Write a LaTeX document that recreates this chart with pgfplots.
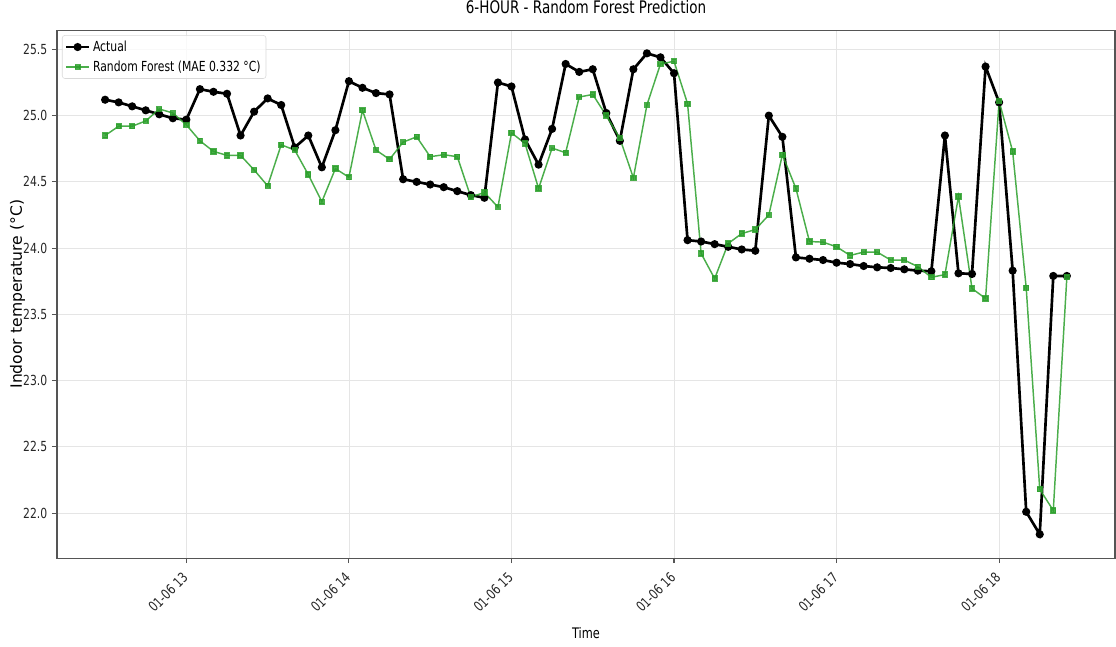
\documentclass[border=0pt]{standalone}
\usepackage{pgfplots}
\pgfplotsset{compat=1.18}
\usepackage{pgfplotstable}
\usepackage{fontspec}
\setmainfont{DejaVu Sans}[FakeStretch=0.78]
\newfontfamily\ylabfont{DejaVu Sans}
\usetikzlibrary{calc}
\definecolor{rfgreen}{HTML}{2CA02C}
\definecolor{spine}{HTML}{555555}

\pgfplotstableread{
t actual rf
12.5000 25.12 24.85
12.5833 25.10 24.92
12.6667 25.07 24.92
12.7500 25.04 24.96
12.8333 25.01 25.05
12.9167 24.98 25.02
13.0000 24.97 24.93
13.0833 25.20 24.81
13.1667 25.18 24.73
13.2500 25.165 24.70
13.3333 24.85 24.70
13.4167 25.03 24.59
13.5000 25.13 24.47
13.5833 25.08 24.78
13.6667 24.76 24.74
13.7500 24.85 24.555
13.8333 24.61 24.35
13.9167 24.89 24.60
14.0000 25.26 24.535
14.0833 25.21 25.04
14.1667 25.17 24.74
14.2500 25.16 24.67
14.3333 24.52 24.80
14.4167 24.50 24.84
14.5000 24.48 24.69
14.5833 24.46 24.705
14.6667 24.43 24.69
14.7500 24.40 24.385
14.8333 24.38 24.42
14.9167 25.25 24.31
15.0000 25.22 24.87
15.0833 24.82 24.79
15.1667 24.63 24.45
15.2500 24.90 24.755
15.3333 25.39 24.72
15.4167 25.33 25.14
15.5000 25.35 25.16
15.5833 25.02 25.00
15.6667 24.81 24.83
15.7500 25.35 24.53
15.8333 25.47 25.08
15.9167 25.44 25.39
16.0000 25.32 25.41
16.0833 24.06 25.09
16.1667 24.05 23.96
16.2500 24.03 23.77
16.3333 24.01 24.035
16.4167 23.99 24.11
16.5000 23.98 24.14
16.5833 25.00 24.25
16.6667 24.84 24.705
16.7500 23.93 24.45
16.8333 23.92 24.05
16.9167 23.91 24.045
17.0000 23.89 24.01
17.0833 23.88 23.945
17.1667 23.865 23.97
17.2500 23.855 23.97
17.3333 23.85 23.91
17.4167 23.84 23.91
17.5000 23.83 23.86
17.5833 23.825 23.78
17.6667 24.85 23.80
17.7500 23.81 24.39
17.8333 23.805 23.695
17.9167 25.37 23.62
18.0000 25.10 25.11
18.0833 23.83 24.73
18.1667 22.01 23.70
18.2500 21.84 22.18
18.3333 23.79 22.02
18.4167 23.79 23.78
}\datatable

\begin{document}
\begin{tikzpicture}
\begin{axis}[
  scale only axis,
  width=793.5pt, height=396pt,
  xmin=12.204, xmax=18.713,
  ymin=21.66, ymax=25.645,
  xtick={13,14,15,16,17,18},
  xticklabels={01-06 13,01-06 14,01-06 15,01-06 16,01-06 17,01-06 18},
  ytick={22,22.5,23,23.5,24,24.5,25,25.5},
  yticklabel style={/pgf/number format/.cd, fixed, fixed zerofill, precision=1, assume math mode=true},
  ticklabel style={font=\fontsize{10.4}{12}\selectfont, text=black!85},
  xticklabel style={yshift=-8pt, rotate=45, anchor=east, inner sep=1pt},
  tick align=outside,
  tick pos=left,
  major tick length=3.75pt,
  tick style={spine, line width=0.8pt},
  axis line style={spine, line width=0.9pt},
  grid=major,
  major grid style={black!10, line width=0.6pt},
  title={6-HOUR - Random Forest Prediction},
  title style={font=\fontsize{13}{15}\selectfont, at={(axis description cs:0.5,1)}, anchor=base, yshift=6.75pt, inner sep=0pt},
  xlabel={Time},
  xlabel style={font=\fontsize{10.9}{13}\selectfont, at={(axis description cs:0.5,0)}, anchor=base, yshift=-60pt, inner sep=0pt},
  ylabel={Indoor temperature (°C)},
  ylabel style={font=\ylabfont\fontsize{11.7}{14}\selectfont, at={(axis description cs:-0.0331,0.5)}, anchor=base, inner sep=0pt},
  legend style={at={(axis description cs:0,1)}, anchor=north west, xshift=3.75pt, yshift=-3.75pt,
    draw=black!15, rounded corners=2pt, fill=white, fill opacity=0.8, text opacity=1,
    font=\fontsize{10.4}{12}\selectfont, inner sep=2pt, row sep=1.5pt},
  legend cell align=left,
]
\addplot[black, line width=2pt, mark=*, mark size=2pt] table[x=t, y=actual] {\datatable};
\addlegendentry{Actual}
\addplot[rfgreen, line width=1.1pt, mark=square*, mark size=1.8pt, opacity=0.85] table[x=t, y=rf] {\datatable};
\addlegendentry{Random Forest (MAE 0.332 °C)}
\end{axis}
\path ($(current axis.south west)+(-42.75pt,-66pt)$) rectangle ($(current axis.north east)+(0.75pt,22.5pt)$);
\end{tikzpicture}
\end{document}
